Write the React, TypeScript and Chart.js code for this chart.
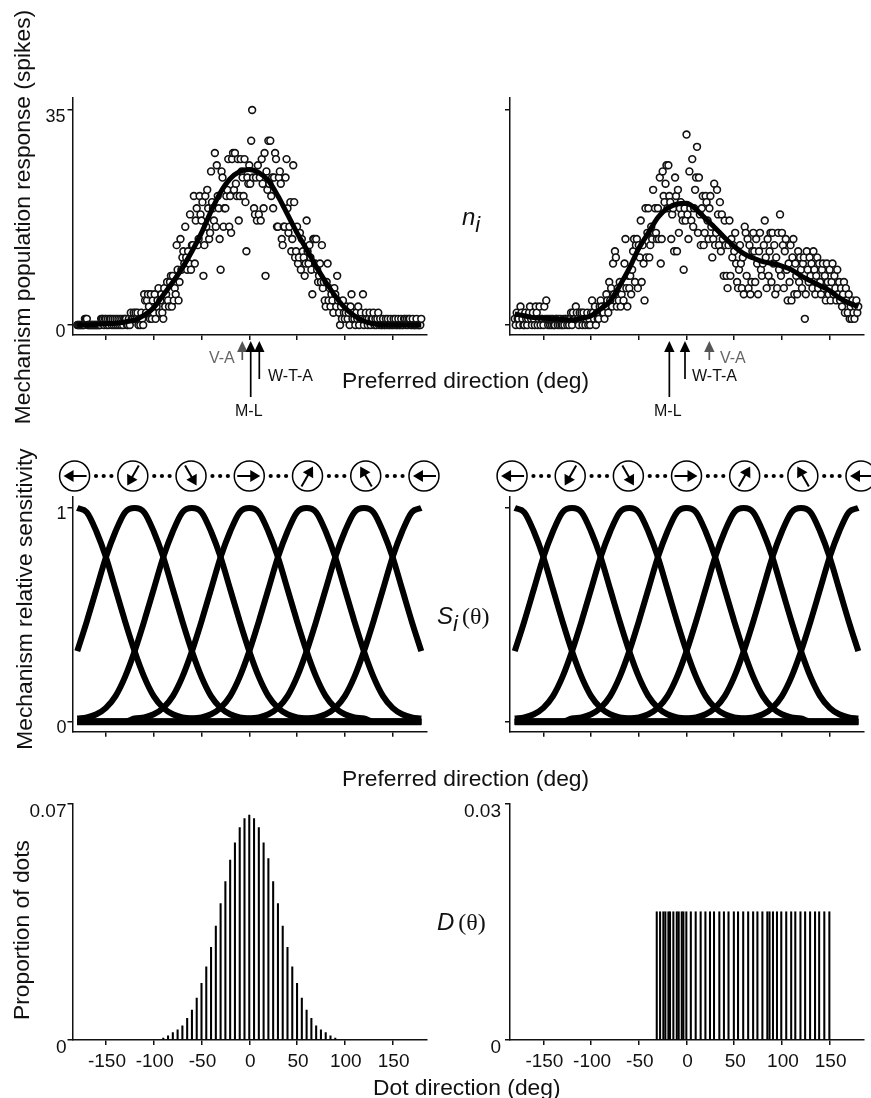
import React, { useEffect, useRef } from "react";
import { Chart, registerables } from "chart.js";

Chart.register(...registerables);

const FONT = "'Liberation Sans', Arial, sans-serif";
const INK = "#111";

// Spike counts per mechanism, one per degree of preferred direction from -180 to 180.
const leftCounts = [
  0,0,0,0,0,0,0,0,1,1, 1,0,0,0,0,0,0,0,0,0, 0,0,0,0,0,1,1,1,0,1, 1,0,1,0,1,1,0,1,0,1,
  0,1,0,1,0,1,0,1,0,1, 1,1,0,0,1,0,2,1,1,2, 1,2,1,2,0,1,0,2,1,0, 5,4,2,4,5,3,1,5,1,4,
  2,5,1,3,4,6,2,4,5,2, 1,6,3,5,7,4,3,7,8,3, 8,4,6,5,13,9,4,7,14,9, 11,12,10,16,11,9,12,10,18,9,
  13,13,21,10,17,19,13,14,21,18, 17,20,8,13,21,16,22,19,14,15, 25,20,19,17,28,16,26,21,19,14,
  9,25,24,16,19,19,21,22,27,16, 21,15,27,28,22,28,23,21,27,17, 21,27,25,24,21,27,20,12,24,23,
  26,23,30,35,24,19,18,24,17,26, 18,24,17,27,23,19,28,8,25,22, 30,23,30,21,24,19,24,28,27,16,
  16,24,25,23,14,13,16,16,24,27, 19,15,16,20,12,14,26,20,11,12, 16,10,11,15,9,14,12,11,8,10,
  17,12,10,13,11,9,5,14,14,10, 14,9,7,8,10,7,13,6,7,4, 3,7,10,4,6,3,5,4,2,6,
  5,3,8,4,2,0,3,1,4,2, 1,2,3,1,2,0,3,5,1,2, 1,0,2,1,3,0,1,2,1,5, 0,1,2,1,0,1,2,0,1,1,
  2,0,1,0,1,2,0,1,0,0, 1,0,0,1,0,1,0,0,1,0, 0,1,0,1,0,0,1,0,0,1, 0,0,1,1,0,1,0,1,1,0,
  0,1,0,0,0,1,0,0,0,0,1,
];
const rightCounts = [
  1,0,2,1,1,0,3,2,1,0, 0,2,1,0,1,2,3,1,0,2, 1,0,3,2,0,1,3,0,1,1, 0,3,1,4,1,0,1,0,1,0,
  1,0,0,1,1,0,1,0,1,0, 0,1,0,1,1,0,1,0,1,2, 0,2,1,1,3,2,1,0,2,1, 2,0,2,1,0,1,2,0,1,0,
  2,4,2,1,3,0,2,1,1,3, 4,3,2,2,1,3,5,4,2,7, 4,6,3,10,5,12,11,3,6,4, 7,3,5,6,4,10,14,6,3,8,
  6,8,5,9,12,14,7,13,14,6, 13,11,17,7,13,10,4,19,11,15, 19,11,13,16,14,22,15,19,15,14,
  19,14,24,10,14,25,21,20,23,26, 19,26,21,20,14,18,19,12,24,21, 12,22,15,19,20,18,17,9,19,17,
  31,18,14,25,19,17,27,16,19,22, 24,29,15,24,18,13,19,21,13,15, 21,20,17,14,19,21,16,11,14,23,
  13,15,22,18,13,20,12,18,14,8, 17,13,8,6,13,17,8,14,11,13, 12,15,10,7,6,9,13,10,6,11,
  5,16,15,8,14,6,13,5,7,12, 15,12,7,14,10,5,12,15,9,8, 10,13,17,11,6,14,8,12,15,7,
  15,10,13,5,11,6,15,9,18,8, 15,13,6,12,14,9,4,10,7,13, 4,11,14,5,10,8,5,12,7,11, 9,6,10,11,1,5,12,9,7,11,
  8,10,6,12,9,5,8,11,6,10, 7,5,9,10,6,8,4,10,7,5, 9,4,7,10,5,8,6,4,9,5, 7,4,6,3,5,7,2,6,4,2,
  5,1,3,1,4,2,1,3,4,2,3,
];

// Smooth population curves, every 10 degrees.
const tenDegreeAngles = [
  -180,-170,-160,-150,-140,-130,-120,-110,-100,-90,-80,-70,-60,-50,-40,-30,-20,-10,0,
  10,20,30,40,50,60,70,80,90,100,110,120,130,140,150,160,170,180,
];
const leftCurve = [
  0,0,0.1,0.2,0.3,0.5,0.8,1.6,2.8,4.9,7,9.3,12,15,18.5,21.6,23.8,25,25.3,
  24.8,23.5,21,18,15,12.3,9.5,7,4.7,2.8,1.5,0.6,0.2,0,0,0,0,0,
];
const rightCurve = [
  1.8,1.5,1.2,1.1,1,0.9,0.8,1.1,1.5,2.6,3.9,6.4,9.2,12.5,15,17.5,19,19.7,19.8,
  18.8,17.3,15.8,14.2,12.8,11.6,10.9,10.3,10,9.6,9,8,7.2,6.4,5.6,4.4,3.6,3,
];

// Mechanism sensitivities, every 10 degrees, one list per mechanism.
const mechanismMinus180 = [1,.98,.89,.77,.62,.47,.33,.21,.12,.065,.035,.02,.015,0,0,0,0,0,0,0,0,0,0,0,0,0,0,0,0,0,0,0,0,0,0,0,0];
const mechanismMinus120 = [.33,.47,.62,.77,.89,.98,1,.98,.89,.77,.62,.47,.33,.21,.12,.065,.035,.02,.015,0,0,0,0,0,0,0,0,0,0,0,0,0,0,0,0,0,0];
const mechanismMinus60 = [.015,.02,.035,.065,.12,.21,.33,.47,.62,.77,.89,.98,1,.98,.89,.77,.62,.47,.33,.21,.12,.065,.035,.02,.015,0,0,0,0,0,0,0,0,0,0,0,0];
const mechanismZero = [0,0,0,0,0,0,.015,.02,.035,.065,.12,.21,.33,.47,.62,.77,.89,.98,1,.98,.89,.77,.62,.47,.33,.21,.12,.065,.035,.02,.015,0,0,0,0,0,0];
const mechanismPlus60 = [0,0,0,0,0,0,0,0,0,0,0,0,.015,.02,.035,.065,.12,.21,.33,.47,.62,.77,.89,.98,1,.98,.89,.77,.62,.47,.33,.21,.12,.065,.035,.02,.015];
const mechanismPlus120 = [0,0,0,0,0,0,0,0,0,0,0,0,0,0,0,0,0,0,.015,.02,.035,.065,.12,.21,.33,.47,.62,.77,.89,.98,1,.98,.89,.77,.62,.47,.33];
const mechanismPlus180 = [0,0,0,0,0,0,0,0,0,0,0,0,0,0,0,0,0,0,0,0,0,0,0,0,.015,.02,.035,.065,.12,.21,.33,.47,.62,.77,.89,.98,1];
const mechanismFloor = tenDegreeAngles.map(() => 0);
const mechanisms = [mechanismMinus180, mechanismMinus120, mechanismMinus60, mechanismZero, mechanismPlus60, mechanismPlus120, mechanismPlus180];
const glyphAngles = [-180, -120, -60, 0, 60, 120, 180];

// Dot direction histograms.
const gaussianAngles = [
  -90,-85,-80,-75,-70,-65,-60,-55,-50,-45,-40,-35,-30,-25,-20,-15,-10,-5,0,
  5,10,15,20,25,30,35,40,45,50,55,60,65,70,75,80,85,90,
];
const gaussianProportions = [
  .0006,.0012,.0022,.003,.0042,.0064,.0089,.0124,.0168,.0217,.0275,.0338,.0405,.047,.0534,.0585,.063,.0657,.0667,
  .0657,.063,.0585,.0538,.047,.0405,.0338,.0275,.0217,.0168,.0124,.0089,.0064,.0042,.003,.0022,.0012,.0006,
];
const skewAngles = [
  -31.2,-27.7,-24.3,-22.2,-19,-17.3,-13.8,-10.2,-8.2,-5,-3.3,-0.2,
  4.5,9.6,14.8,19.8,24.6,28.8,34.4,39.2,44,49.6,54,59.4,64.6,69.8,74.3,79.5,84.7,87,90.6,94.8,99.3,
  104.5,109.7,114,119.4,124.3,129.5,134.7,139,144.4,149.7,
];
const skewProportion = 0.0163;
const skewProportions = skewAngles.map(() => skewProportion);

const xTicks = [-150, -100, -50, 0, 50, 100, 150];
const spikeTicks = [0, 35];
const sensitivityTicks = [0, 1];
const leftMarkers = [
  { name: "V-A", deg: -7.3, gray: true, stemEnd: 360 },
  { name: "M-L", deg: 1.5, gray: false, stemEnd: 397 },
  { name: "W-T-A", deg: 10.5, gray: false, stemEnd: 379 },
];
const rightMarkers = [
  { name: "M-L", deg: -18, gray: false, stemEnd: 397 },
  { name: "W-T-A", deg: -1.6, gray: false, stemEnd: 379 },
  { name: "V-A", deg: 23.9, gray: true, stemEnd: 360 },
];

type Box = { left: number; top: number; width: number; height: number; axisLeft: number; axisTop: number; axisBottom: number; axisRight: number };

const topLeftBox: Box = { left: 28, top: 70, width: 405, height: 332, axisLeft: 72.5, axisTop: 98, axisBottom: 335, axisRight: 427 };
const topRightBox: Box = { left: 440, top: 70, width: 431, height: 332, axisLeft: 510, axisTop: 98, axisBottom: 335, axisRight: 864 };
const midLeftBox: Box = { left: 28, top: 455, width: 414, height: 290, axisLeft: 72.5, axisTop: 497, axisBottom: 731.7, axisRight: 427 };
const midRightBox: Box = { left: 440, top: 455, width: 431, height: 290, axisLeft: 510, axisTop: 497, axisBottom: 731.7, axisRight: 864 };
const botLeftBox: Box = { left: 28, top: 776, width: 405, height: 302, axisLeft: 72.5, axisTop: 804, axisBottom: 1040, axisRight: 427 };
const botRightBox: Box = { left: 440, top: 776, width: 431, height: 302, axisLeft: 510, axisTop: 804, axisBottom: 1040, axisRight: 864 };

function scales(box: Box, o: { yMin: number; yMax: number; yTicks: number[]; yLabels: boolean; xLabels: boolean; fontSize: number; labelOffset: number; pad: number }) {
  const grid = { display: true, drawOnChartArea: false, drawTicks: true, tickLength: 5, color: INK, lineWidth: 1.5, offset: false };
  const border = { display: true, color: INK, width: 1.5 };
  return {
    x: {
      type: "linear",
      min: -185,
      max: 186,
      offset: false,
      grid,
      border,
      afterBuildTicks: (s: any) => { s.ticks = xTicks.map((value) => ({ value })); },
      afterFit: (s: any) => { s.height = box.top + box.height - box.axisBottom; s.paddingLeft = 0; s.paddingRight = 0; },
      ticks: {
        autoSkip: false,
        maxRotation: 0,
        padding: 5,
        labelOffset: 1,
        color: INK,
        font: { family: FONT, size: 19 },
        callback: (v: any) => (o.xLabels ? String(v) : ""),
      },
    },
    y: {
      type: "linear",
      min: o.yMin,
      max: o.yMax,
      grid,
      border,
      afterBuildTicks: (s: any) => { s.ticks = o.yTicks.map((value) => ({ value })); },
      afterFit: (s: any) => { s.width = box.axisLeft - box.left; s.paddingTop = 0; s.paddingBottom = 0; },
      ticks: {
        autoSkip: false,
        padding: o.pad,
        labelOffset: o.labelOffset,
        color: INK,
        font: { family: FONT, size: o.fontSize },
        callback: (v: any) => (o.yLabels ? String(v) : ""),
      },
    },
  };
}

function markerPlugin(box: Box, markers: typeof leftMarkers) {
  return {
    id: "markers",
    afterDraw(chart: any) {
      const { ctx } = chart;
      ctx.save();
      for (const m of markers) {
        const x = chart.scales.x.getPixelForValue(m.deg);
        const c = m.gray ? "#555" : "#000";
        ctx.fillStyle = c;
        ctx.strokeStyle = c;
        ctx.lineWidth = 1.7;
        ctx.beginPath();
        ctx.moveTo(x, 350 - box.top);
        ctx.lineTo(x, m.stemEnd - box.top);
        ctx.stroke();
        ctx.beginPath();
        ctx.moveTo(x, 341 - box.top);
        ctx.lineTo(x - 5.2, 352 - box.top);
        ctx.lineTo(x + 5.2, 352 - box.top);
        ctx.closePath();
        ctx.fill();
      }
      ctx.restore();
    },
  };
}

function glyphPlugin(box: Box, shift: number) {
  return {
    id: "glyphs",
    afterDraw(chart: any) {
      const { ctx } = chart;
      const cy = 476 - box.top;
      const r = 15;
      const xs = glyphAngles.map((a) => chart.scales.x.getPixelForValue(a) + shift * (a / 180));
      ctx.save();
      ctx.strokeStyle = "#000";
      ctx.fillStyle = "#000";
      xs.forEach((x: number, i: number) => {
        const a = (glyphAngles[i] * Math.PI) / 180;
        const dx = Math.cos(a);
        const dy = -Math.sin(a);
        ctx.lineWidth = 1.5;
        ctx.beginPath();
        ctx.arc(x, cy, r, 0, Math.PI * 2);
        ctx.stroke();
        const hx = x + dx * 11;
        const hy = cy + dy * 11;
        ctx.lineWidth = 2;
        ctx.beginPath();
        ctx.moveTo(x - dx * 12, cy - dy * 12);
        ctx.lineTo(x + dx * 4, cy + dy * 4);
        ctx.stroke();
        ctx.beginPath();
        ctx.moveTo(hx, hy);
        ctx.lineTo(hx - dx * 10 - dy * 6, hy - dy * 10 + dx * 6);
        ctx.lineTo(hx - dx * 10 + dy * 6, hy - dy * 10 - dx * 6);
        ctx.closePath();
        ctx.fill();
        if (i < xs.length - 1) {
          const mid = (x + xs[i + 1]) / 2;
          [-7.7, 0, 7.7].forEach((o) => {
            ctx.beginPath();
            ctx.arc(mid + o, cy, 2.1, 0, Math.PI * 2);
            ctx.fill();
          });
        }
      });
      ctx.restore();
    },
  };
}

function baseOptions(box: Box, sc: any) {
  return {
    responsive: false,
    animation: false,
    events: [],
    layout: {
      autoPadding: false,
      padding: {
        top: box.axisTop - box.top,
        right: box.left + box.width - box.axisRight,
        left: 0,
        bottom: 0,
      },
    },
    plugins: { legend: { display: false }, title: { display: false }, tooltip: { enabled: false } },
    scales: sc,
  };
}

function spikeChart(c: HTMLCanvasElement, box: Box, counts: number[], curve: number[], markers: typeof leftMarkers, labels: boolean) {
  return new Chart(c, {
    type: "scatter",
    data: {
      datasets: [
        {
          data: curve.map((y, i) => ({ x: tenDegreeAngles[i], y })),
          showLine: true,
          borderColor: "#000",
          borderWidth: 5,
          pointRadius: 0,
          cubicInterpolationMode: "monotone",
          order: 1,
        },
        {
          data: counts.map((y, i) => ({ x: i - 180, y })),
          showLine: false,
          pointStyle: "circle",
          pointRadius: 3.4,
          pointBorderWidth: 1.6,
          pointBackgroundColor: "#fff",
          pointBorderColor: "#111",
          order: 2,
        },
      ],
    },
    options: baseOptions(box, scales(box, { yMin: -1.63, yMax: 36.95, yTicks: spikeTicks, yLabels: labels, xLabels: false, fontSize: 18, labelOffset: 7, pad: 2 })),
    plugins: [markerPlugin(box, markers)],
  } as any);
}

function sensitivityChart(c: HTMLCanvasElement, box: Box, labels: boolean, shift: number) {
  const curve = (values: number[], width: number) => ({
    data: values.map((y, i) => ({ x: tenDegreeAngles[i], y })),
    showLine: true,
    borderColor: "#000",
    borderWidth: width,
    pointRadius: 0,
    cubicInterpolationMode: "monotone",
    borderCapStyle: "butt",
  });
  return new Chart(c, {
    type: "scatter",
    data: { datasets: [...mechanisms.map((m) => curve(m, 6)), curve(mechanismFloor, 7)] },
    options: baseOptions(box, scales(box, { yMin: -0.0468, yMax: 1.0515, yTicks: sensitivityTicks, yLabels: labels, xLabels: false, fontSize: 18, labelOffset: 6, pad: 1 })),
    plugins: [glyphPlugin(box, shift)],
  } as any);
}

function dotChart(c: HTMLCanvasElement, box: Box, angles: number[], values: number[], top: number, pad: number) {
  return new Chart(c, {
    type: "bar",
    data: {
      datasets: [
        {
          data: values.map((y, i) => ({ x: angles[i], y })),
          backgroundColor: "#000",
          barThickness: 1.4,
          borderWidth: 0,
        },
      ],
    },
    options: baseOptions(box, scales(box, { yMin: 0, yMax: top, yTicks: [0, top], yLabels: true, xLabels: true, fontSize: 19, labelOffset: 8, pad })),
  } as any);
}

const textBase: React.CSSProperties = { position: "absolute", fontFamily: FONT, color: INK, whiteSpace: "nowrap", lineHeight: 1 };

function Label({ x, y, size, color, children }: { x: number; y: number; size: number; color?: string; children: React.ReactNode }) {
  return <div style={{ ...textBase, left: x, top: y, fontSize: size, color: color ?? INK, transform: "translateY(-50%)" }}>{children}</div>;
}
function Vertical({ x, y, children }: { x: number; y: number; children: React.ReactNode }) {
  return <div style={{ ...textBase, left: x, top: y, fontSize: 22.8, transform: "translate(-50%,-50%) rotate(-90deg)" }}>{children}</div>;
}
const theta = <span style={{ fontFamily: "'Liberation Serif', serif", fontSize: 24 }}>(θ)</span>;
const sub = (t: string) => <sub style={{ fontSize: 22, fontStyle: "italic", verticalAlign: "-7px", lineHeight: 0 }}>{t}</sub>;

function Panel({ box, draw }: { box: Box; draw: (c: HTMLCanvasElement) => Chart }) {
  const ref = useRef<HTMLCanvasElement>(null);
  useEffect(() => {
    const chart = draw(ref.current!);
    return () => chart.destroy();
  }, []);
  return <canvas ref={ref} width={box.width} height={box.height} style={{ position: "absolute", left: box.left, top: box.top, width: box.width, height: box.height }} />;
}

export default function App() {
  return (
    <div style={{ position: "absolute", left: 0, top: 0, width: 871, height: 1098, overflow: "hidden", background: "#fff" }}>
      <Panel box={topLeftBox} draw={(c) => spikeChart(c, topLeftBox, leftCounts, leftCurve, leftMarkers, true)} />
      <Panel box={topRightBox} draw={(c) => spikeChart(c, topRightBox, rightCounts, rightCurve, rightMarkers, false)} />
      <Panel box={midLeftBox} draw={(c) => sensitivityChart(c, midLeftBox, true, 2.7)} />
      <Panel box={midRightBox} draw={(c) => sensitivityChart(c, midRightBox, false, 2.7)} />
      <Panel box={botLeftBox} draw={(c) => dotChart(c, botLeftBox, gaussianAngles, gaussianProportions, 0.07, 1)} />
      <Panel box={botRightBox} draw={(c) => dotChart(c, botRightBox, skewAngles, skewProportions, 0.03, 4)} />

      <Vertical x={22} y={216.5}>Mechanism population response (spikes)</Vertical>
      <Vertical x={24} y={598.5}>Mechanism relative sensitivity</Vertical>
      <Vertical x={21} y={930}>Proportion of dots</Vertical>

      <Label x={342} y={380} size={22.8}>Preferred direction (deg)</Label>
      <Label x={342} y={778} size={22.8}>Preferred direction (deg)</Label>
      <Label x={373} y={1087} size={22.8}>Dot direction (deg)</Label>

      <Label x={209} y={358} size={16} color="#666">V-A</Label>
      <Label x={268} y={376} size={16}>W-T-A</Label>
      <Label x={235} y={410.5} size={16}>M-L</Label>
      <Label x={720} y={358} size={16} color="#666">V-A</Label>
      <Label x={692} y={376} size={16}>W-T-A</Label>
      <Label x={654} y={410.5} size={16}>M-L</Label>

      <Label x={462} y={217} size={24}><i>n</i>{sub("i")}</Label>
      <Label x={437} y={616} size={24}><i>S</i>{sub("i")}<span style={{ marginLeft: 4 }}>{theta}</span></Label>
      <Label x={437} y={922} size={24}><i>D</i><span style={{ marginLeft: 4 }}>{theta}</span></Label>
    </div>
  );
}
